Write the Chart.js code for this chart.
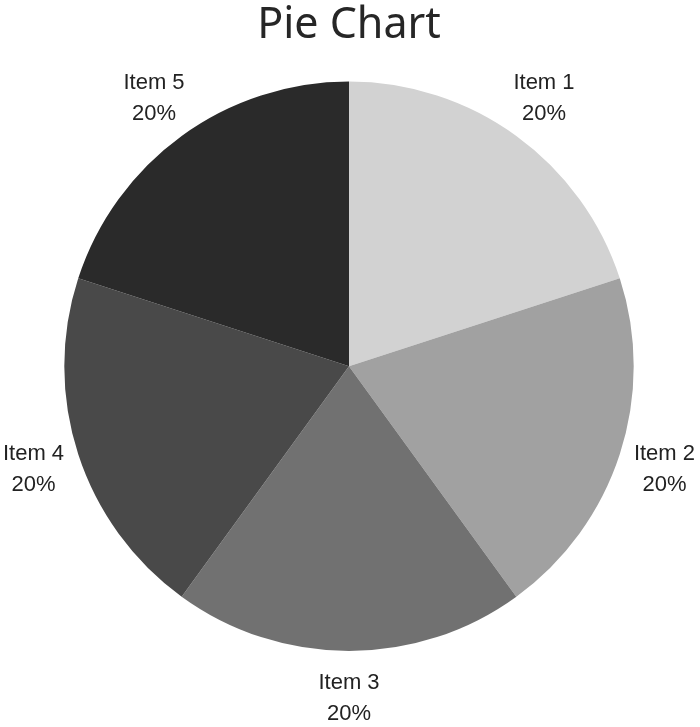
<!DOCTYPE html>
<html>
<head>
<meta charset="utf-8">
<script src="https://cdn.jsdelivr.net/npm/chart.js@4/dist/chart.umd.min.js"></script>
<style>
    body { margin:0; background:#fff; }
    #contenedor { width:700px; height:727px; }
</style>
</head>
<body>
<div id="contenedor"><canvas id="graficaPie"></canvas></div>
<script>
var etiquetas = ['Item 1', 'Item 2', 'Item 3', 'Item 4', 'Item 5'];
var valores = [20, 20, 20, 20, 20];
var colores = [
    '#d2d2d2',  //Item 1
    '#a1a1a1',  //Item 2
    '#717171',  //Item 3
    '#494949',  //Item 4
    '#2a2a2a'   //Item 5
];

// etiquetas fuera del pastel: nombre y porcentaje
var etiquetasFuera = {
    id: 'etiquetasFuera',
    afterDatasetsDraw: function (chart) {
        var ctx = chart.ctx;
        var meta = chart.getDatasetMeta(0);
        var total = valores.reduce(function (a, b) { return a + b; }, 0);
        ctx.save();
        ctx.fillStyle = '#222';
        ctx.font = '22px "Liberation Sans", Arial, sans-serif';
        ctx.textAlign = 'center';
        ctx.textBaseline = 'middle';
        meta.data.forEach(function (arc, i) {
            var p = arc.getProps(['x', 'y', 'startAngle', 'endAngle', 'outerRadius'], true);
            var medio = (p.startAngle + p.endAngle) / 2;
            var d = p.outerRadius + 47;
            var x = p.x + Math.cos(medio) * d;
            var y = p.y + Math.sin(medio) * d;
            ctx.fillText(etiquetas[i], x, y - 15);
            ctx.fillText(Math.round(valores[i] / total * 100) + '%', x, y + 16);
        });
        ctx.restore();
    }
};

var datos1 = {
    type: 'pie',
    data: {
        labels: etiquetas,
        datasets: [{
            data: valores,
            backgroundColor: colores,
            hoverBackgroundColor: colores,
            borderWidth: 0
        }]
    },
    options: {
        responsive: true,
        maintainAspectRatio: false,
        animation: false,
        layout: { padding: { top: 0, bottom: 76, left: 0, right: 2 } },
        plugins: {
            legend: { display: false },
            tooltip: { enabled: false },
            title: {
                display: true,
                text: 'Pie Chart',
                color: '#262626',
                font: { family: '"Noto Sans", sans-serif', size: 43, weight: 'normal', lineHeight: 1.2 },
                padding: { top: 0, bottom: 30 }
            }
        }
    },
    plugins: [etiquetasFuera]
};

var canvas = document.getElementById('graficaPie').getContext('2d');
var grafica = new Chart(canvas, datos1);
</script>
</body>
</html>
